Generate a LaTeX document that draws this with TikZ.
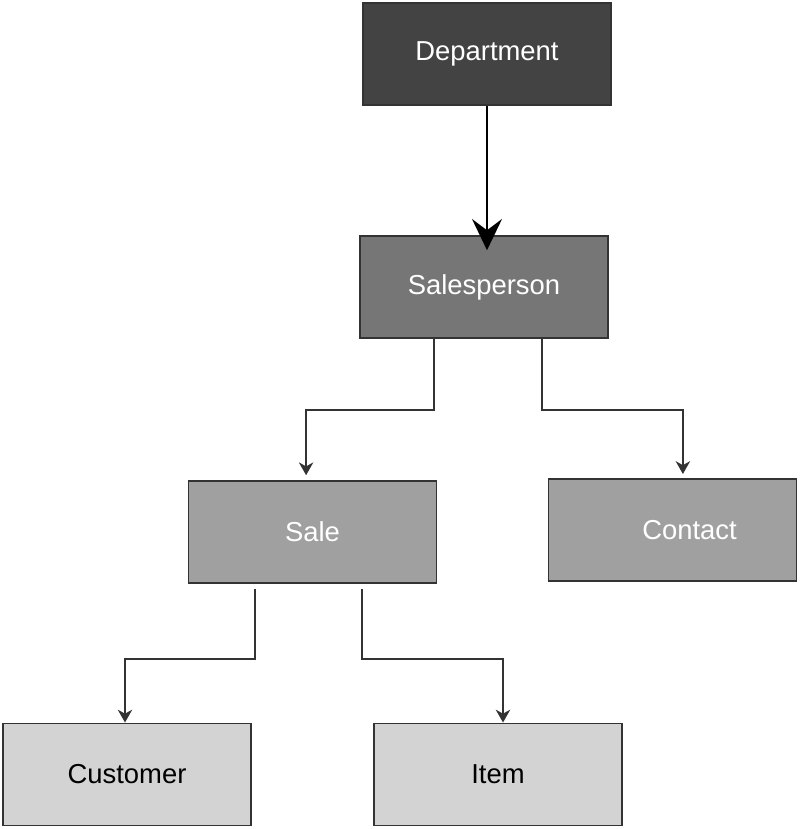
\documentclass[tikz,border=0pt]{standalone}
\usepackage{fontspec}
\setmainfont{Liberation Sans}
\usepackage{xcolor}
\usetikzlibrary{arrows.meta}
\definecolor{deptgray}{HTML}{434343}
\definecolor{spgray}{HTML}{767676}
\definecolor{midgray}{HTML}{A0A0A0}
\definecolor{lightgray}{HTML}{D3D3D3}
\definecolor{linegray}{HTML}{333333}

\begin{document}
\begin{tikzpicture} [scale = 1,
	box/.style = {draw = linegray, line width = 1.4pt, minimum width = 6.2cm, minimum height = 2.55cm,
		inner sep = 0pt, font = \fontsize{19.5}{23}\selectfont},
	link/.style = {draw = linegray, line width = 1.3pt, -{Stealth[length = 0.32cm, width = 0.36cm, inset = 0.1cm]}}]
	\useasboundingbox (0,0) rectangle (20,20.725);
	% boxes
	\node [box, fill = deptgray, text = white] (dept) at (12.175,19.375) {Department};
	\node [box, fill = spgray, text = white] (sp) at (12.1,13.55) {Salesperson};
	\node [box, fill = midgray, text = white] (sale) at (7.8125,7.425) {Sale};
	\node [box, fill = midgray, text = white] (contact) at (16.8125,7.475) {\hspace*{0.85cm}Contact};
	\node [box, fill = lightgray] (cust) at (3.175,1.3625) {Customer};
	\node [box, fill = lightgray] (item) at (12.45,1.3625) {Item};
	% connectors
	\draw [link, draw = black, -{Stealth[length = 0.78cm, width = 0.75cm, inset = 0.28cm]}, shorten >= -0.38cm]
		(dept.south) -- (dept.south |- sp.north);
	\draw [link, shorten >= 0.12cm] ([xshift = -1.25cm]sp.south) -- ++(0,-1.78) -| ([xshift = -0.16cm]sale.north);
	\draw [link, shorten >= 0.1cm] ([xshift = 1.45cm]sp.south) -- ++(0,-1.78) -| ([xshift = 0.26cm]contact.north);
	\draw [link, shorten <= 0.12cm] ([xshift = -1.44cm]sale.south) -- ++(0,-1.88) -| ([xshift = -0.05cm]cust.north);
	\draw [link, shorten <= 0.12cm] ([xshift = 1.24cm]sale.south) -- ++(0,-1.88) -| ([xshift = 0.125cm]item.north);
\end{tikzpicture}
\end{document}
